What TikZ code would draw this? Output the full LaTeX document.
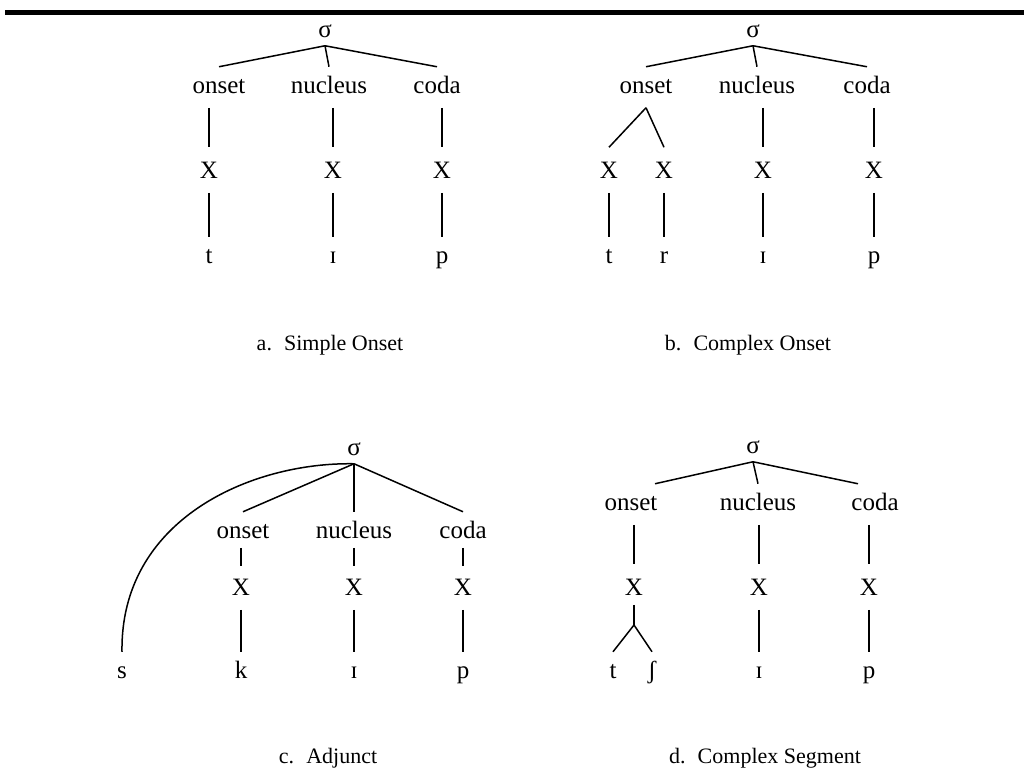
\documentclass[tikz,border=0pt]{standalone}
\usepackage{fontspec}
\setmainfont{Liberation Serif}

\begin{document}
\begin{tikzpicture}[x = 1pt, y = -1pt, line width = 1.5pt,
    every node/.style = {anchor = base, inner xsep = 0pt, inner ysep = 14pt,
        text height = 11.5pt, text depth = 0pt, font = \fontsize{25}{30}\selectfont},
    syl/.style = {inner ysep = 8pt},
    slot/.style = {text height = 16pt},
    caption/.style = {inner ysep = 0pt, font = \fontsize{22}{26}\selectfont}]
    \useasboundingbox (0,0) rectangle (1024,780);
    \draw[line width = 5pt] (5,12.5) -- (1024,12.5);

    % a. simple onset
    \node[syl] (sA) at (325,37) {σ};
    \node (oA) at (219,93) {onset};
    \node (nA) at (329,93) {nucleus};
    \node (cA) at (437,93) {coda};
    \node[slot] (xA1) at (209,178) {X};
    \node[slot] (xA2) at (333,178) {X};
    \node[slot] (xA3) at (442,178) {X};
    \node (tA) at (209,263) {t};
    \node (iA) at (333,263) {ɪ};
    \node (pA) at (442,263) {p};
    \draw (sA.south) -- (oA.north);
    \draw (sA.south) -- (nA.north);
    \draw (sA.south) -- (cA.north);
    \draw (oA.south -| xA1.north) -- (xA1.north);
    \draw (nA.south -| xA2.north) -- (xA2.north);
    \draw (cA.south -| xA3.north) -- (xA3.north);
    \draw (xA1.south) -- (tA.north);
    \draw (xA2.south) -- (iA.north);
    \draw (xA3.south) -- (pA.north);
    \node[caption] (capA) at (330,350) {a.\hspace{0.55em}Simple Onset};

    % b. complex onset
    \node[syl] (sB) at (753,37) {σ};
    \node (oB) at (646,93) {onset};
    \node (nB) at (757,93) {nucleus};
    \node (cB) at (867,93) {coda};
    \node[slot] (xB1) at (609,178) {X};
    \node[slot] (xB2) at (664,178) {X};
    \node[slot] (xB3) at (763,178) {X};
    \node[slot] (xB4) at (874,178) {X};
    \node (tB) at (609,263) {t};
    \node (rB) at (664,263) {r};
    \node (iB) at (763,263) {ɪ};
    \node (pB) at (874,263) {p};
    \draw (sB.south) -- (oB.north);
    \draw (sB.south) -- (nB.north);
    \draw (sB.south) -- (cB.north);
    \draw (oB.south) -- (xB1.north);
    \draw (oB.south) -- (xB2.north);
    \draw (nB.south -| xB3.north) -- (xB3.north);
    \draw (cB.south -| xB4.north) -- (xB4.north);
    \draw (xB1.south) -- (tB.north);
    \draw (xB2.south) -- (rB.north);
    \draw (xB3.south) -- (iB.north);
    \draw (xB4.south) -- (pB.north);
    \node[caption] (capB) at (748,350) {b.\hspace{0.55em}Complex Onset};

    % c. adjunct
    \node[syl] (sC) at (354,455) {σ};
    \node (oC) at (243,538) {onset};
    \node (nC) at (354,538) {nucleus};
    \node (cC) at (463,538) {coda};
    \node[slot] (xC1) at (241,595) {X};
    \node[slot] (xC2) at (354,595) {X};
    \node[slot] (xC3) at (463,595) {X};
    \node (sAdj) at (122,678) {s};
    \node (kC) at (241,678) {k};
    \node (iC) at (354,678) {ɪ};
    \node (pC) at (463,678) {p};
    \draw (sC.south) -- (oC.north);
    \draw (sC.south) -- (nC.north);
    \draw (sC.south) -- (cC.north);
    \draw (sC.south) .. controls (250,462) and (120,520) .. (sAdj.north);
    \draw ([yshift = 5pt]oC.south -| xC1.north) -- ([yshift = -2pt]xC1.north);
    \draw ([yshift = 5pt]nC.south -| xC2.north) -- ([yshift = -2pt]xC2.north);
    \draw ([yshift = 5pt]cC.south -| xC3.north) -- ([yshift = -2pt]xC3.north);
    \draw (xC1.south) -- (kC.north);
    \draw (xC2.south) -- (iC.north);
    \draw (xC3.south) -- (pC.north);
    \node[caption] (capC) at (328,763) {c.\hspace{0.55em}Adjunct};

    % d. complex segment
    \node[syl] (sD) at (753,453) {σ};
    \node (oD) at (631,510) {onset};
    \node (nD) at (758,510) {nucleus};
    \node (cD) at (875,510) {coda};
    \node[slot] (xD1) at (634,595) {X};
    \node[slot] (xD2) at (759,595) {X};
    \node[slot] (xD3) at (869,595) {X};
    \coordinate (br) at (634,625);
    \node (tD) at (613,678) {t};
    \node (shD) at (652,678) {ʃ};
    \node (iD) at (759,678) {ɪ};
    \node (pD) at (869,678) {p};
    \draw (sD.south) -- ([xshift = 24pt]oD.north);
    \draw (sD.south) -- (nD.north);
    \draw (sD.south) -- ([xshift = -17pt]cD.north);
    \draw (oD.south -| xD1.north) -- (xD1.north);
    \draw (nD.south -| xD2.north) -- (xD2.north);
    \draw (cD.south -| xD3.north) -- (xD3.north);
    \draw ([yshift = 5pt]xD1.south) -- (br);
    \draw (br) -- (tD.north);
    \draw (br) -- (shD.north);
    \draw (xD2.south) -- (iD.north);
    \draw (xD3.south) -- (pD.north);
    \node[caption] (capD) at (765,763) {d.\hspace{0.55em}Complex Segment};
\end{tikzpicture}
\end{document}
